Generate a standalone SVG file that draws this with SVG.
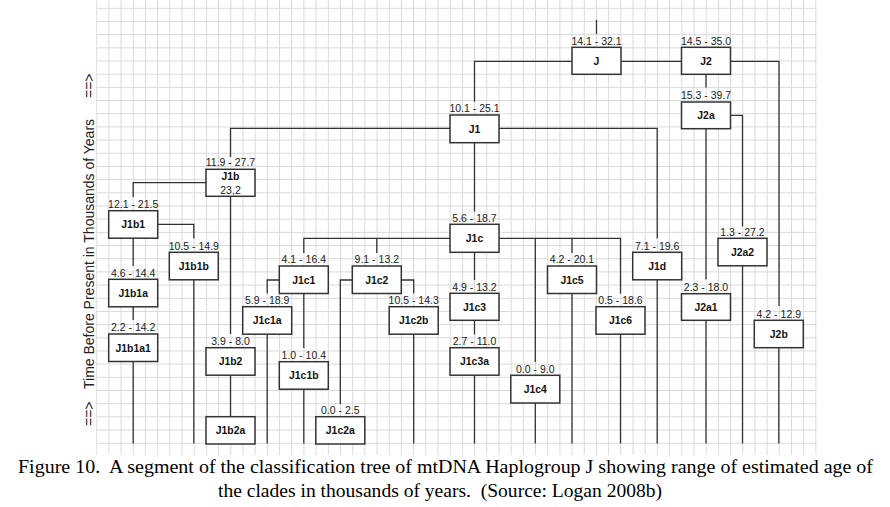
<svg xmlns="http://www.w3.org/2000/svg" width="890" height="507" viewBox="0 0 890 507">
<style>
.box{fill:#fff;stroke:#333;stroke-width:1.5}
.rng{font-family:"Liberation Sans",Arial,sans-serif;font-size:10.5px;fill:#222;text-anchor:middle}
.nm{font-family:"Liberation Sans",Arial,sans-serif;font-size:10.4px;font-weight:bold;fill:#111;text-anchor:middle}
.ln{fill:none;stroke:#333;stroke-width:1.3}
.axis{font-family:"Liberation Sans",Arial,sans-serif;font-size:14px;fill:#222}
.cap{font-family:"Liberation Serif","Times New Roman",serif;font-size:19.5px;fill:#000}
</style>
<defs>
<pattern id="grid" patternUnits="userSpaceOnUse" x="96.2" y="7.8" width="12.19" height="13.18">
<rect x="0" y="0" width="1" height="13.18" fill="#d9d9d9"/>
<rect x="0" y="0" width="12.19" height="1" fill="#d9d9d9"/>
</pattern>
</defs>
<rect width="890" height="507" fill="#fff"/>
<rect x="96.2" y="0" width="720.5" height="455" fill="url(#grid)"/>
<g id="axis-label">
<text class="axis" transform="translate(94,426) rotate(-90)">==&gt;</text>
<text class="axis" transform="translate(94,389) rotate(-90)">Time Before Present in Thousands of Years</text>
<text class="axis" transform="translate(94,98) rotate(-90)">==&gt;</text>
</g>
<g id="connectors">
<path class="ln" d="M596.5,20 V34"/>
<path class="ln" d="M572,61.3 H474.5 V101.7"/>
<path class="ln" d="M621,61.3 H681.5"/>
<path class="ln" d="M706,74.3 V87.5"/>
<path class="ln" d="M730.5,61.3 H779 V306"/>
<path class="ln" d="M730.5,115.3 H742.5 V226.5"/>
<path class="ln" d="M706,128.7 V279.5"/>
<path class="ln" d="M499,128.3 H657.2 V238.5"/>
<path class="ln" d="M450,128.3 H230.5 V157"/>
<path class="ln" d="M474.5,142.7 V211.5"/>
<path class="ln" d="M206,182.7 H133.2 V197"/>
<path class="ln" d="M230.5,196.3 V334"/>
<path class="ln" d="M157.7,224.3 H193.8 V238.5"/>
<path class="ln" d="M133.2,238.2 V266"/>
<path class="ln" d="M133.2,306.8 V320"/>
<path class="ln" d="M133.2,361.5 V443.5"/>
<path class="ln" d="M193.8,279.8 V443.5"/>
<path class="ln" d="M230.5,375.2 V416.7"/>
<path class="ln" d="M450,238.3 H303.8 V253"/>
<path class="ln" d="M376.8,238.3 V253"/>
<path class="ln" d="M279.3,280 H267.2 V293.5"/>
<path class="ln" d="M267.2,334.2 V443.5"/>
<path class="ln" d="M303.8,293.5 V348"/>
<path class="ln" d="M303.8,389.2 V443.5"/>
<path class="ln" d="M352.3,280 H340.3 V404"/>
<path class="ln" d="M401.3,280 H413.7 V293.5"/>
<path class="ln" d="M413.7,334.2 V443.5"/>
<path class="ln" d="M474.5,252 V280"/>
<path class="ln" d="M474.5,320.3 V334.5"/>
<path class="ln" d="M474.5,375.2 V443.5"/>
<path class="ln" d="M499,238.3 H620.5 V293.5"/>
<path class="ln" d="M535.3,238.3 V362"/>
<path class="ln" d="M572,238.3 V253"/>
<path class="ln" d="M535.3,403 V443.5"/>
<path class="ln" d="M572,293.5 V443.5"/>
<path class="ln" d="M620.5,334.2 V443.5"/>
<path class="ln" d="M657.2,279.8 V443.5"/>
<path class="ln" d="M706,320.3 V443.5"/>
<path class="ln" d="M742.5,265.8 V443.5"/>
<path class="ln" d="M778.8,347.7 V443.5"/>
</g>
<g id="J"><rect class="box" x="572" y="47.3" width="49" height="27"/><text class="rng" x="596.5" y="44.7">14.1 - 32.1</text><text class="nm" x="596.5" y="64.6">J</text></g>
<g id="J2"><rect class="box" x="681.5" y="47.3" width="49" height="27"/><text class="rng" x="706" y="44.7">14.5 - 35.0</text><text class="nm" x="706" y="64.6">J2</text></g>
<g id="J2a"><rect class="box" x="681.5" y="102" width="49" height="26.7"/><text class="rng" x="706" y="99.4">15.3 - 39.7</text><text class="nm" x="706" y="119.3">J2a</text></g>
<g id="J1"><rect class="box" x="450" y="115" width="49" height="27.7"/><text class="rng" x="474.5" y="112.4">10.1 - 25.1</text><text class="nm" x="474.5" y="132.7">J1</text></g>
<g id="J1b"><rect class="box" x="206" y="169.3" width="49" height="27"/><text class="rng" x="230.5" y="166.2">11.9 - 27.7</text><text class="nm" x="230.5" y="180">J1b</text><text class="rng" x="230.5" y="194">23,2</text></g>
<g id="J1b1"><rect class="box" x="108.7" y="210.7" width="49" height="27.5"/><text class="rng" x="133.2" y="208.1">12.1 - 21.5</text><text class="nm" x="133.2" y="228.3">J1b1</text></g>
<g id="J1c"><rect class="box" x="450" y="224.3" width="49" height="28"/><text class="rng" x="474.5" y="221.7">5.6 - 18.7</text><text class="nm" x="474.5" y="242.1">J1c</text></g>
<g id="J2a2"><rect class="box" x="718" y="238.3" width="49" height="27.5"/><text class="rng" x="742.5" y="235.7">1.3 - 27.2</text><text class="nm" x="742.5" y="255.9">J2a2</text></g>
<g id="J1b1b"><rect class="box" x="169.3" y="252.3" width="49" height="27.5"/><text class="rng" x="193.8" y="249.7">10.5 - 14.9</text><text class="nm" x="193.8" y="269.9">J1b1b</text></g>
<g id="J1d"><rect class="box" x="632.7" y="252.3" width="49" height="27.5"/><text class="rng" x="657.2" y="249.7">7.1 - 19.6</text><text class="nm" x="657.2" y="269.9">J1d</text></g>
<g id="J1c1"><rect class="box" x="279.3" y="266" width="49" height="27.5"/><text class="rng" x="303.8" y="263.4">4.1 - 16.4</text><text class="nm" x="303.8" y="283.6">J1c1</text></g>
<g id="J1c2"><rect class="box" x="352.3" y="266" width="49" height="27.5"/><text class="rng" x="376.8" y="263.4">9.1 - 13.2</text><text class="nm" x="376.8" y="283.6">J1c2</text></g>
<g id="J1c5"><rect class="box" x="547.5" y="266" width="49" height="27.5"/><text class="rng" x="572" y="263.4">4.2 - 20.1</text><text class="nm" x="572" y="283.6">J1c5</text></g>
<g id="J1b1a"><rect class="box" x="108.7" y="279.3" width="49" height="27.5"/><text class="rng" x="133.2" y="276.7">4.6 - 14.4</text><text class="nm" x="133.2" y="296.9">J1b1a</text></g>
<g id="J1c3"><rect class="box" x="450" y="293.3" width="49" height="27"/><text class="rng" x="474.5" y="290.7">4.9 - 13.2</text><text class="nm" x="474.5" y="310.6">J1c3</text></g>
<g id="J2a1"><rect class="box" x="681.5" y="293.7" width="49" height="26.6"/><text class="rng" x="706" y="291.1">2.3 - 18.0</text><text class="nm" x="706" y="310.8">J2a1</text></g>
<g id="J1c1a"><rect class="box" x="242.7" y="306.7" width="49" height="27.5"/><text class="rng" x="267.2" y="304.1">5.9 - 18.9</text><text class="nm" x="267.2" y="324.3">J1c1a</text></g>
<g id="J1c2b"><rect class="box" x="389.2" y="306.7" width="49" height="27.5"/><text class="rng" x="413.7" y="304.1">10.5 - 14.3</text><text class="nm" x="413.7" y="324.3">J1c2b</text></g>
<g id="J1c6"><rect class="box" x="596" y="306.7" width="49" height="27.5"/><text class="rng" x="620.5" y="304.1">0.5 - 18.6</text><text class="nm" x="620.5" y="324.3">J1c6</text></g>
<g id="J2b"><rect class="box" x="754.3" y="320.3" width="49" height="27.4"/><text class="rng" x="778.8" y="317.7">4.2 - 12.9</text><text class="nm" x="778.8" y="337.8">J2b</text></g>
<g id="J1b1a1"><rect class="box" x="108.7" y="334" width="49" height="27.5"/><text class="rng" x="133.2" y="331.4">2.2 - 14.2</text><text class="nm" x="133.2" y="351.6">J1b1a1</text></g>
<g id="J1b2"><rect class="box" x="206" y="347.7" width="49" height="27.5"/><text class="rng" x="230.5" y="345.1">3.9 - 8.0</text><text class="nm" x="230.5" y="365.3">J1b2</text></g>
<g id="J1c3a"><rect class="box" x="450" y="347.7" width="49" height="27.5"/><text class="rng" x="474.5" y="345.1">2.7 - 11.0</text><text class="nm" x="474.5" y="365.3">J1c3a</text></g>
<g id="J1c1b"><rect class="box" x="279.3" y="361.7" width="49" height="27.5"/><text class="rng" x="303.8" y="359.1">1.0 - 10.4</text><text class="nm" x="303.8" y="379.3">J1c1b</text></g>
<g id="J1c4"><rect class="box" x="510.8" y="375.3" width="49" height="27.7"/><text class="rng" x="535.3" y="372.7">0.0 - 9.0</text><text class="nm" x="535.3" y="393">J1c4</text></g>
<g id="J1b2a"><rect class="box" x="206" y="416.7" width="49" height="27.3"/><text class="nm" x="230.5" y="434.2">J1b2a</text></g>
<g id="J1c2a"><rect class="box" x="315.8" y="416.7" width="49" height="27.3"/><text class="rng" x="340.3" y="414.1">0.0 - 2.5</text><text class="nm" x="340.3" y="434.2">J1c2a</text></g>
<g id="caption">
<text class="cap" x="18" y="473" textLength="855" lengthAdjust="spacingAndGlyphs" xml:space="preserve">Figure 10.  A segment of the classification tree of mtDNA Haplogroup J showing range of estimated age of</text>
<text class="cap" x="218" y="497" textLength="444" lengthAdjust="spacingAndGlyphs" xml:space="preserve">the clades in thousands of years.  (Source: Logan 2008b)</text>
</g>
</svg>
